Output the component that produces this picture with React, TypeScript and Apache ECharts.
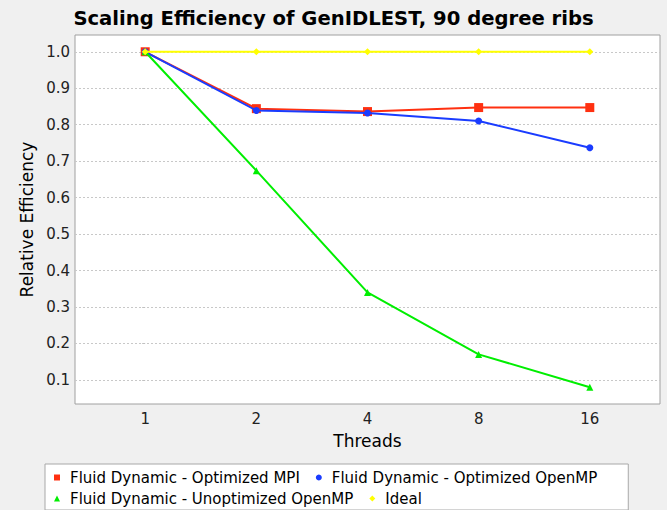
import React, { useEffect, useRef } from "react";
import * as echarts from "echarts";

const threadLabels = ["1", "2", "4", "8", "16"];
const yTicks = [0.1, 0.2, 0.3, 0.4, 0.5, 0.6, 0.7, 0.8, 0.9, 1.0];
const optimizedMPI = [1.0, 0.844, 0.836, 0.847, 0.847];
const optimizedOpenMP = [1.0, 0.839, 0.832, 0.81, 0.737];
const unoptimizedOpenMP = [1.0, 0.674, 0.34, 0.17, 0.08];
const ideal = [1.0, 1.0, 1.0, 1.0, 1.0];

const seriesNames = [
  "Fluid Dynamic - Optimized MPI",
  "Fluid Dynamic - Optimized OpenMP",
  "Fluid Dynamic - Unoptimized OpenMP",
  "Ideal",
];

const toPoints = (vals: number[]) => vals.map((v, i) => [i, v]);

export default function App() {
  const ref = useRef<HTMLDivElement>(null);
  useEffect(() => {
    if (!ref.current) return;
    const chart = echarts.init(ref.current, undefined, { renderer: "svg" });
    const font = "DejaVu Sans";
    const mk = (
      name: string,
      data: number[],
      color: string,
      symbol: string,
      size: number,
      z: number
    ) => ({
      name,
      type: "line",
      data: toPoints(data),
      symbol,
      symbolSize: size,
      showSymbol: true,
      z,
      lineStyle: { color, width: 2 },
      itemStyle: { color },
    });
    chart.setOption({
      animation: false,
      backgroundColor: "#f0f0f0",
      textStyle: { fontFamily: font },
      title: {
        text: "Scaling Efficiency of GenIDLEST, 90 degree ribs",
        left: "center",
        top: 3,
        textStyle: { fontFamily: font, fontSize: 19.6, fontWeight: "bold", color: "#000" },
      },
      grid: {
        left: 75,
        right: 7,
        top: 35,
        bottom: 106,
        show: true,
        backgroundColor: "#ffffff",
        borderColor: "#a0a0a0",
        borderWidth: 1,
        outerBoundsMode: "none",
      },
      xAxis: {
        type: "value",
        min: -0.6316,
        max: 4.6316,
        name: "Threads",
        nameLocation: "middle",
        nameGap: 28,
        nameTextStyle: { fontFamily: font, fontSize: 17, color: "#000" },
        axisLine: { show: false },
        axisTick: { show: false, customValues: [0, 1, 2, 3, 4] },
        splitLine: { show: false },
        axisLabel: {
          customValues: [0, 1, 2, 3, 4],
          formatter: (v: number) => threadLabels[Math.round(v)] ?? "",
          fontFamily: font,
          fontSize: 15,
          color: "#222",
          margin: 7,
        },
      },
      yAxis: {
        type: "value",
        min: 0.034,
        max: 1.046,
        name: "Relative Efficiency",
        nameLocation: "middle",
        nameGap: 33,
        nameTextStyle: { fontFamily: font, fontSize: 17, color: "#000" },
        axisLine: { show: false },
        axisTick: {
          show: true,
          customValues: yTicks,
          length: 3,
          lineStyle: { color: "#c0c0c0" },
        },
        splitLine: {
          show: true,
          lineStyle: { color: "#c8c8c8", type: [2, 2], width: 1 },
        },
        axisLabel: {
          customValues: yTicks,
          formatter: (v: number) => v.toFixed(1),
          fontFamily: font,
          fontSize: 15,
          color: "#222",
          margin: 5,
        },
      },
      legend: {
        left: 45,
        top: 464,
        width: 565,
        orient: "horizontal",
        backgroundColor: "#ffffff",
        borderColor: "#a8a8a8",
        borderWidth: 1,
        borderRadius: 0,
        padding: [6, 21, 4, 9],
        itemGap: 6,
        itemWidth: 6,
        itemHeight: 6,
        textStyle: {
          fontFamily: font,
          fontSize: 15,
          color: "#000",
          lineHeight: 13,
          padding: [0, 10, 0, 5],
        },
        data: [
          { name: seriesNames[0], icon: "rect" },
          { name: seriesNames[1], icon: "circle" },
          { name: seriesNames[2], icon: "triangle" },
          { name: seriesNames[3], icon: "diamond" },
        ],
      },
      series: [
        mk(seriesNames[0], optimizedMPI, "#ff3010", "rect", 9, 2),
        mk(seriesNames[1], optimizedOpenMP, "#1a3cff", "circle", 7, 3),
        mk(seriesNames[2], unoptimizedOpenMP, "#00ee00", "triangle", 7, 4),
        mk(seriesNames[3], ideal, "#ffff00", "diamond", 7, 5),
      ],
    });
    return () => chart.dispose();
  }, []);
  return (
    <div
      ref={ref}
      style={{ position: "fixed", left: 0, top: 0, width: 667, height: 510 }}
    />
  );
}
